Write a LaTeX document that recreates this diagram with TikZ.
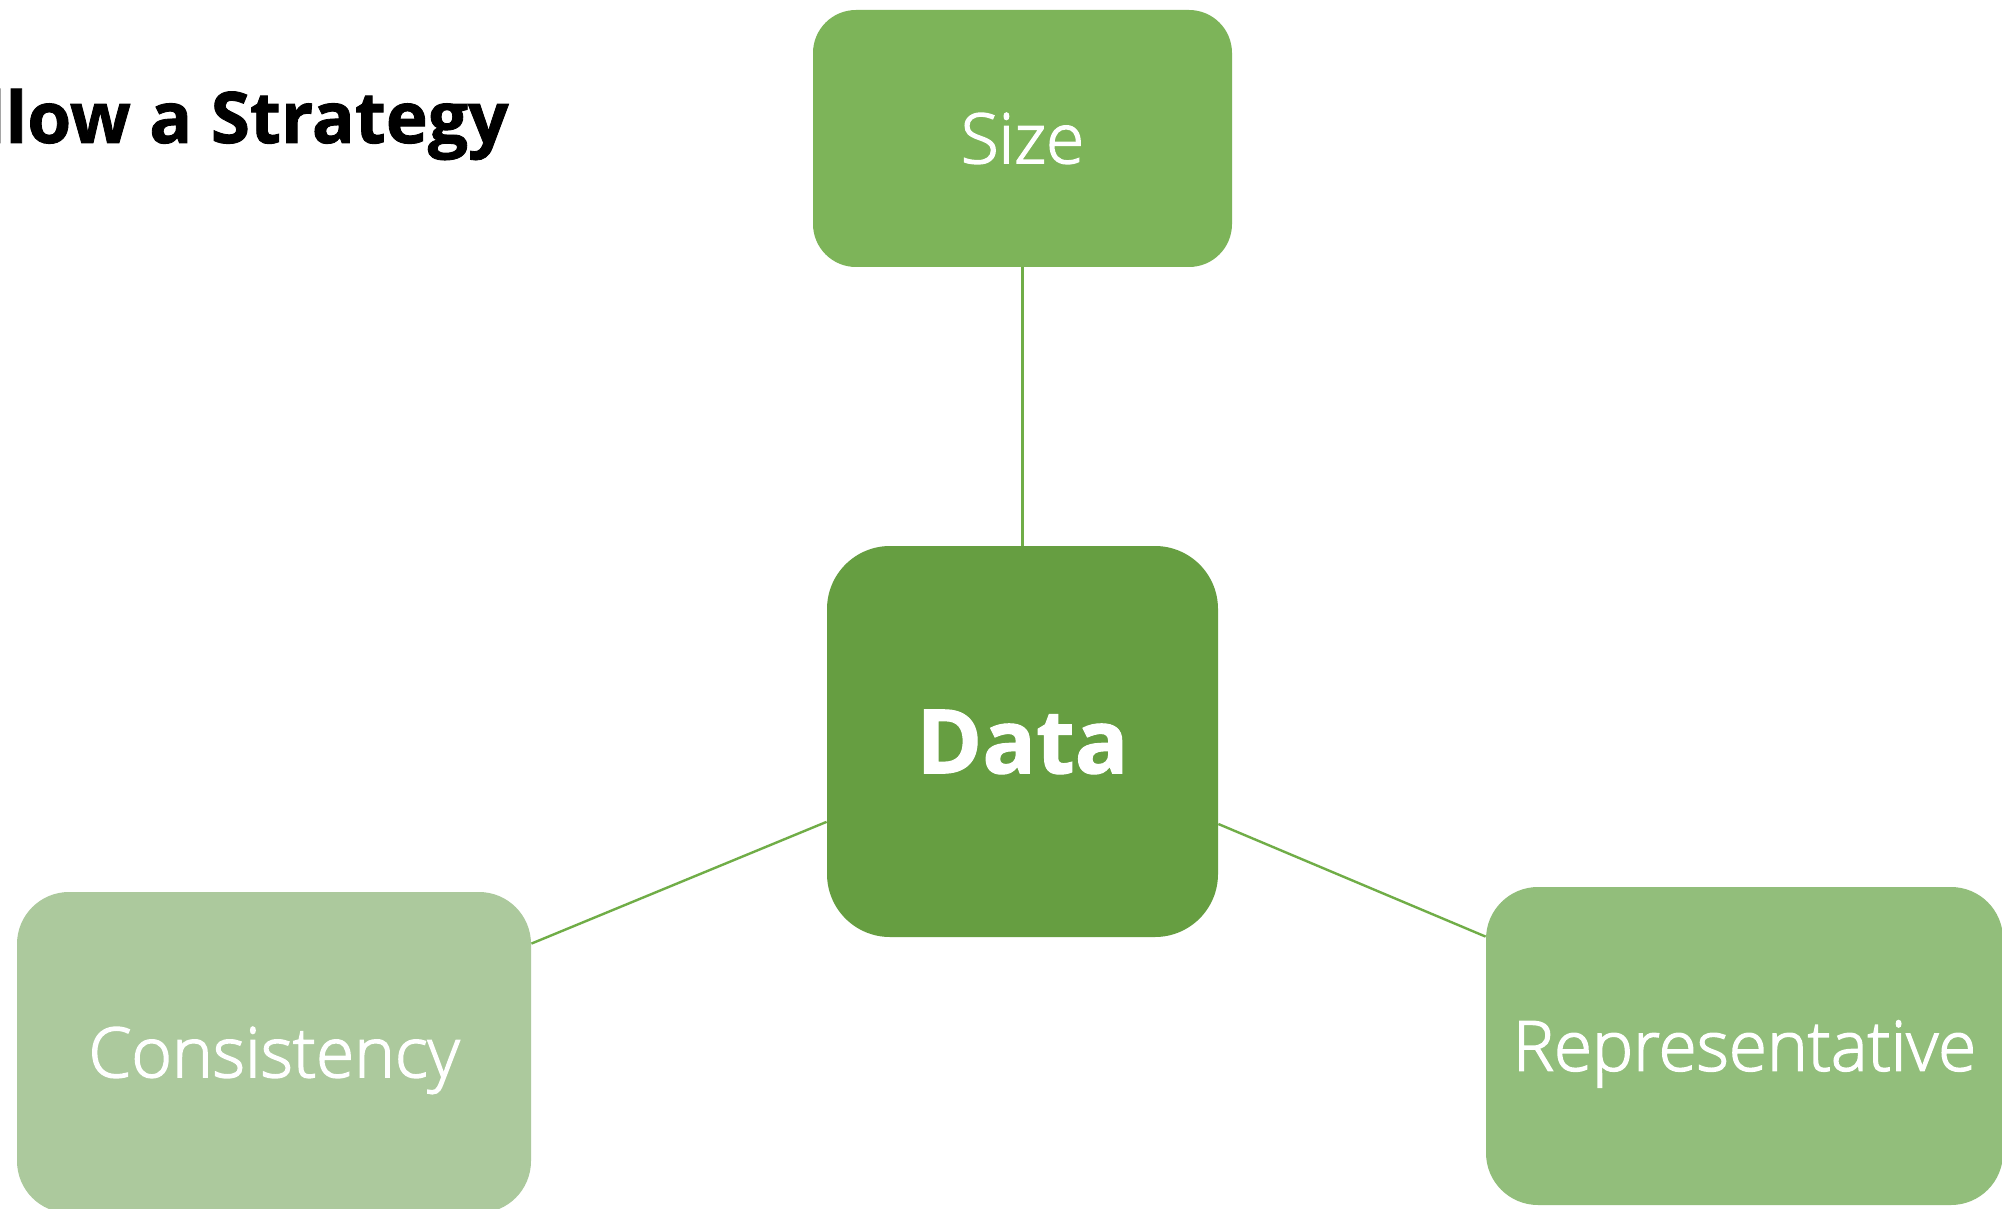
\documentclass[tikz,border=0pt]{standalone}
\usepackage{fontspec}
\setmainfont{Open Sans}[BoldFeatures={FakeBold=1.2}]
\newfontfamily\lightfont{Open Sans Light}[FakeBold=2.2]

\definecolor{hubgreen}{HTML}{669E41}
\definecolor{topgreen}{HTML}{7DB459}
\definecolor{rightgreen}{HTML}{92BE7B}
\definecolor{leftgreen}{HTML}{ACC99D}
\definecolor{linkgreen}{HTML}{70AD47}

\begin{document}
\begin{tikzpicture}[x=0.5pt,y=-0.5pt,
  box/.style={rectangle, inner sep=0pt, text=white, align=center},
  leaf/.style={box, font=\lightfont\fontsize{34.6}{40}\selectfont,
               text height=24.7pt, text depth=0pt},
  link/.style={draw=linkgreen, line width=1.2pt}]

  % canvas
  \clip (0,0) rectangle (2002,1209);
  \fill[white] (0,0) rectangle (2002,1209);

  % heading
  \node[anchor=base east, inner sep=0pt,
        font=\bfseries\fontsize{35.6}{40}\selectfont] (title) at (509,143)
        {Follow a Strategy};

  % hub
  \node[box, fill=hubgreen, rounded corners=31.5pt,
        minimum width=195.5pt, minimum height=195.5pt,
        font=\bfseries\fontsize{44.5}{48}\selectfont,
        text height=31.8pt, text depth=0pt] (data) at (1022.5,741.5) {Data};

  % satellites
  \node[leaf, fill=topgreen, rounded corners=21.5pt,
        minimum width=209.5pt, minimum height=128.5pt] (size) at (1022.5,138.5) {Size};
  \node[leaf, fill=leftgreen, rounded corners=26pt,
        minimum width=257pt, minimum height=160.5pt] (cons) at (274,1052.5) {Consistency};
  \node[leaf, fill=rightgreen, rounded corners=26pt,
        minimum width=258.5pt, minimum height=159pt] (rep) at (1744.5,1046) {Representative};

  % spokes
  \draw[link] (data) -- (size);
  \draw[link] (data) -- ([yshift=-26pt]cons.north east);
  \draw[link] (data) -- ([yshift=-25pt]rep.north west);
\end{tikzpicture}
\end{document}
